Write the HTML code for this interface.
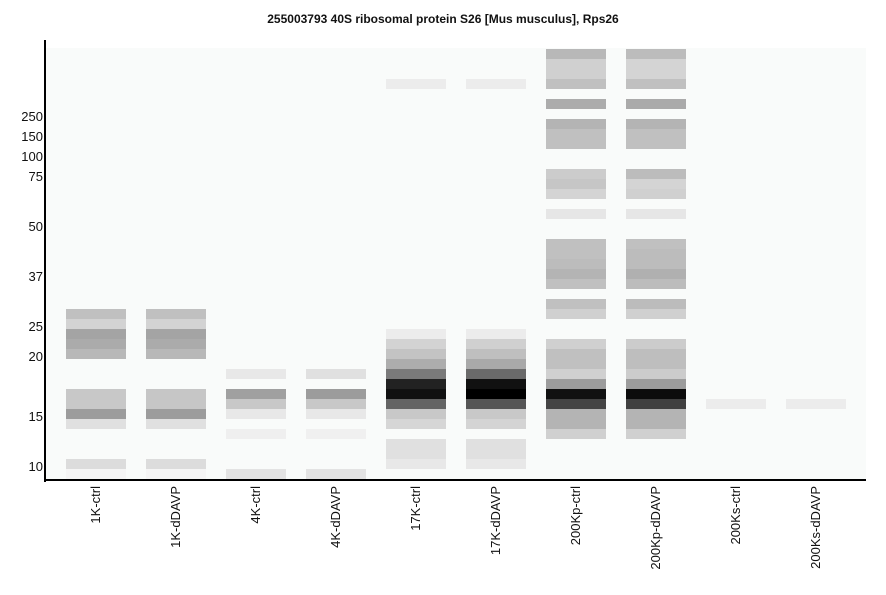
<!DOCTYPE html>
<html><head><meta charset="utf-8"><style>
body{margin:0;background:#fff;width:886px;height:595px;position:relative;overflow:hidden;font-family:"Liberation Sans",Arial,sans-serif}
#plot{position:absolute;left:46px;top:48px;width:820px;height:432px;background:#f9fbfa}
.b{position:absolute;height:10px;width:60px}
.yl{position:absolute;right:843px;font-size:13px;color:#111;line-height:14px}
.xl{position:absolute;top:486px;font-size:13px;color:#111;white-space:nowrap;transform-origin:0 0;transform:rotate(-90deg);line-height:14px}
</style></head><body>
<div style="position:absolute;top:12px;left:0;width:886px;text-align:center;font-size:12px;font-weight:bold;color:#111">255003793 40S ribosomal protein S26 [Mus musculus], Rps26</div>
<div id="plot"></div>
<div style="position:absolute;left:44px;top:40px;width:2px;height:442px;background:#000"></div>
<div style="position:absolute;left:44px;top:479px;width:822px;height:2px;background:#000"></div>
<div id="bands"></div>
<div class="yl" style="top:110px">250</div>
<div class="yl" style="top:130px">150</div>
<div class="yl" style="top:150px">100</div>
<div class="yl" style="top:170px">75</div>
<div class="yl" style="top:220px">50</div>
<div class="yl" style="top:270px">37</div>
<div class="yl" style="top:320px">25</div>
<div class="yl" style="top:350px">20</div>
<div class="yl" style="top:410px">15</div>
<div class="yl" style="top:460px">10</div>
<script>
var L=[
{26:'c0c0c0',27:'d3d3d3',28:'a4a4a4',29:'ababab',30:'b8b8b8',34:'c8c8c8',35:'c8c8c8',36:'9c9c9c',37:'e0e0e0',41:'dcdcdc',42:'f5f5f5'},
{26:'c0c0c0',27:'d3d3d3',28:'a4a4a4',29:'ababab',30:'b8b8b8',34:'c6c6c6',35:'c6c6c6',36:'9c9c9c',37:'e0e0e0',41:'dcdcdc',42:'f5f5f5'},
{32:'e8e8e8',34:'a0a0a0',35:'c8c8c8',36:'e8e8e8',38:'efefef',42:'e3e3e3'},
{32:'e0e0e0',34:'9c9c9c',35:'c8c8c8',36:'e8e8e8',38:'f0f0f0',42:'e3e3e3'},
{3:'ececec',28:'ececec',29:'d3d3d3',30:'c3c3c3',31:'adadad',32:'7a7a7a',33:'222222',34:'111111',35:'646464',36:'c8c8c8',37:'d6d6d6',39:'e0e0e0',40:'e0e0e0',41:'e8e8e8'},
{3:'ececec',28:'ececec',29:'d0d0d0',30:'bfbfbf',31:'a9a9a9',32:'6a6a6a',33:'111111',34:'000000',35:'555555',36:'c8c8c8',37:'d4d4d4',39:'e0e0e0',40:'e0e0e0',41:'e8e8e8'},
{0:'b8b8b8',1:'d0d0d0',2:'d0d0d0',3:'c0c0c0',5:'acacac',7:'b4b4b4',8:'c0c0c0',9:'c0c0c0',12:'cccccc',13:'c6c6c6',14:'d4d4d4',16:'e6e6e6',19:'c0c0c0',20:'c0c0c0',21:'bcbcbc',22:'b4b4b4',23:'c0c0c0',25:'c0c0c0',26:'d0d0d0',29:'d0d0d0',30:'c0c0c0',31:'c0c0c0',32:'d0d0d0',33:'9c9c9c',34:'111111',35:'444444',36:'b4b4b4',37:'b4b4b4',38:'d0d0d0'},
{0:'bcbcbc',1:'d4d4d4',2:'d4d4d4',3:'c0c0c0',5:'aaaaaa',7:'b4b4b4',8:'c0c0c0',9:'c0c0c0',12:'bcbcbc',13:'d4d4d4',14:'d0d0d0',16:'e6e6e6',19:'c0c0c0',20:'bcbcbc',21:'bcbcbc',22:'b0b0b0',23:'bcbcbc',25:'bcbcbc',26:'d0d0d0',29:'cccccc',30:'bebebe',31:'bebebe',32:'cccccc',33:'9c9c9c',34:'0c0c0c',35:'404040',36:'b4b4b4',37:'b4b4b4',38:'d0d0d0'},
{35:'ececec'},{35:'ececec'}];
var names=['1K-ctrl','1K-dDAVP','4K-ctrl','4K-dDAVP','17K-ctrl','17K-dDAVP','200Kp-ctrl','200Kp-dDAVP','200Ks-ctrl','200Ks-dDAVP'];
var h='';
L.forEach(function(o,i){for(var k in o){h+='<div class="b" style="left:'+(66+80*i)+'px;top:'+(49+10*k)+'px;background:#'+o[k]+'"></div>';}
h+='<div class="xl" style="left:'+(89+80*i)+'px;">'+'<span style="display:inline-block;transform:translateX(-100%)">'+names[i]+'</span></div>';});
document.getElementById('bands').innerHTML=h;
</script>
</body></html>
